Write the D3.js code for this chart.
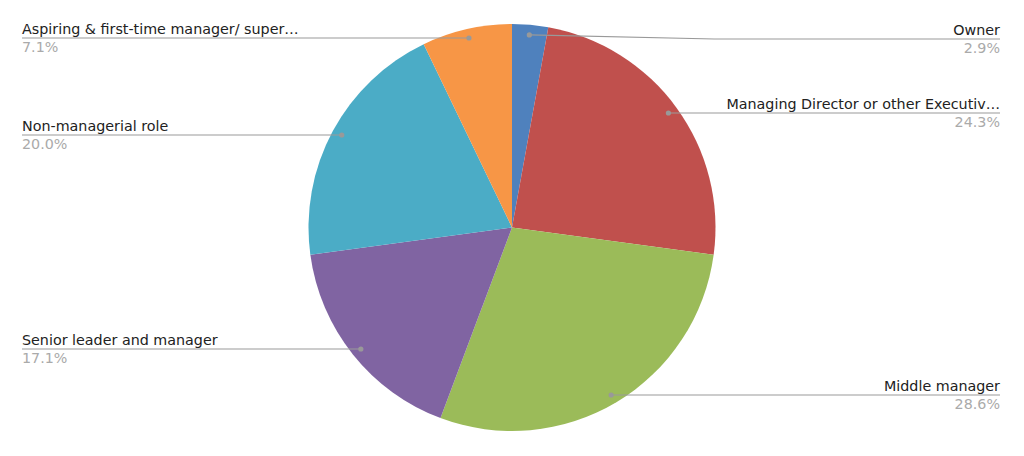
<!DOCTYPE html>
<html>
<head>
<meta charset="utf-8">
<script src="https://cdn.jsdelivr.net/npm/d3@7"></script>
<style>
  html, body { margin: 0; padding: 0; background: #fff; }
  svg { display: block; }
</style>
</head>
<body>
<svg id="chart" width="1024" height="456"></svg>
<script>
const categories = ["Owner", "Managing Director or other Executiv\u2026", "Middle manager", "Senior leader and manager", "Non-managerial role", "Aspiring & first-time manager/ super\u2026"];
const values = [2, 17, 20, 12, 14, 5];
const colors = ["#4f81bd", "#c0504d", "#9bbb59", "#8064a2", "#4bacc6", "#f79646"];
// label line y positions (layout of label rows)
const labelY = [39, 113, 395, 349, 135, 38];

const svg = d3.select("#chart");
const cx = 512, cy = 227.5, r = 203.5;
const total = d3.sum(values);
const data = categories.map((c, i) => ({ name: c, value: values[i], color: colors[i], ly: labelY[i] }));

const pie = d3.pie().value(d => d.value).sort(null);
const arcs = pie(data);
const arc = d3.arc().innerRadius(0).outerRadius(r);
const dotArc = d3.arc().innerRadius(r * 0.95).outerRadius(r * 0.95);

const g = svg.append("g").attr("transform", `translate(${cx},${cy})`);
g.selectAll("path.slice").data(arcs).join("path")
  .attr("class", "slice")
  .attr("d", arc)
  .attr("fill", d => d.data.color);

const fmt = d3.format(".1f");
const leftX = 22, rightX = 1000;
const fontSize = 14.3;

arcs.forEach(a => {
  const [dx, dy] = dotArc.centroid(a);
  const px = cx + dx;
  let py = cy + dy;
  const mid = (a.startAngle + a.endAngle) / 2;
  const right = mid < Math.PI;
  const ly = a.data.ly;
  const endX = right ? rightX : leftX;
  let pts;
  if (Math.abs(py - ly) > 3) {
    const bendX = right ? px + 185 : px - 185;
    pts = [[px, py], [bendX, ly], [endX, ly]];
  } else {
    py = ly;
    pts = [[px, ly], [endX, ly]];
  }
  svg.append("path")
    .attr("d", d3.line()(pts))
    .attr("fill", "none")
    .attr("stroke", "#999")
    .attr("stroke-width", 1.2);
  svg.append("circle")
    .attr("cx", px).attr("cy", py).attr("r", 2.6)
    .attr("fill", "#999");
  svg.append("text")
    .attr("x", endX).attr("y", ly - 4)
    .attr("text-anchor", right ? "end" : "start")
    .attr("font-family", "DejaVu Sans, Verdana, sans-serif")
    .attr("font-size", fontSize)
    .attr("fill", "#222")
    .text(a.data.name);
  svg.append("text")
    .attr("x", endX).attr("y", ly + 14)
    .attr("text-anchor", right ? "end" : "start")
    .attr("font-family", "DejaVu Sans, Verdana, sans-serif")
    .attr("font-size", fontSize)
    .attr("fill", "#aaa")
    .text(fmt(a.data.value / total * 100) + "%");
});
</script>
</body>
</html>
